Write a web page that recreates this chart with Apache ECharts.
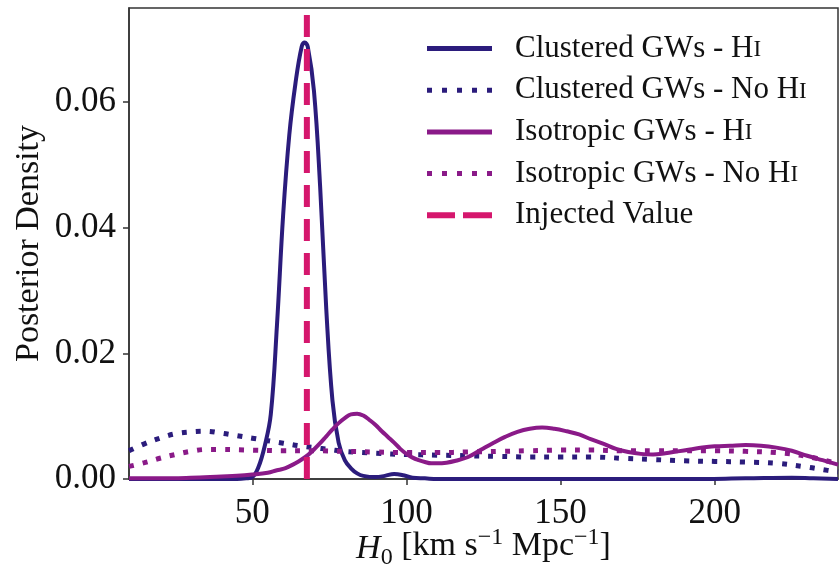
<!DOCTYPE html>
<html><head><meta charset="utf-8">
<script src="https://cdn.jsdelivr.net/npm/echarts@6/dist/echarts.min.js"></script>
<style>html,body{margin:0;padding:0;background:#fff}#c{width:840px;height:573px}</style>
</head><body><div id="c"></div>
<script>
// ---- tick labels ----
const xTicks = [50, 100, 150, 200];
const yTicks = [0, 0.02, 0.04, 0.06];
const xRange = [10, 240];
const yRange = [0, 0.075];
const injectedH0 = 67.7;

const names = [
  'Clustered GWs - HI',
  'Clustered GWs - No HI',
  'Isotropic GWs - HI',
  'Isotropic GWs - No HI',
  'Injected Value'
];

// ---- Clustered GWs - HI ----
const clusteredHiX = [10, 20, 30, 40, 45, 48, 50, 52, 54, 56, 58, 60, 62, 64, 66, 67, 68, 70, 72, 74, 76, 78, 80, 82, 84, 86, 90, 93, 96, 99, 102, 106, 110, 130, 160, 190, 210, 225, 232, 240];
const clusteredHiY = [0, 0, 0, 0, 0, 0.0001, 0.0003, 0.0019, 0.0052, 0.0103, 0.0245, 0.0420, 0.0548, 0.0630, 0.0688, 0.0695, 0.0688, 0.0618, 0.0466, 0.0270, 0.0125, 0.0058, 0.0030, 0.0017, 0.0009, 0.0005, 0.0003, 0.0005, 0.0008, 0.0006, 0.0002, 0.0001, 0, 0, 0, 0, 0.0001, 0.0002, 0.0001, 0];

// ---- Clustered GWs - No HI ----
const clusteredNoHiX = [10, 15, 20, 25, 30, 35, 40, 45, 50, 55, 60, 65, 70, 75, 80, 90, 100, 110, 120, 130, 140, 150, 160, 170, 180, 190, 200, 210, 220, 230, 235, 240];
const clusteredNoHiY = [0.0045, 0.0056, 0.0065, 0.0072, 0.0075, 0.0076, 0.0073, 0.0069, 0.0065, 0.0061, 0.0057, 0.0053, 0.0050, 0.0047, 0.0044, 0.0041, 0.0039, 0.0038, 0.0037, 0.0036, 0.0035, 0.0035, 0.0035, 0.0033, 0.0031, 0.0029, 0.0028, 0.0027, 0.0025, 0.0019, 0.0015, 0.0011];

// ---- Isotropic GWs - HI ----
const isotropicHiX = [10, 20, 30, 40, 45, 50, 55, 58, 60, 62, 64, 66, 68, 70, 72, 74, 76, 78, 80, 82, 84, 86, 88, 90, 92, 94, 96, 98, 100, 102, 104, 106, 108, 110, 113, 116, 120, 124, 128, 132, 136, 140, 144, 148, 152, 156, 160, 164, 168, 172, 176, 180, 184, 188, 192, 196, 200, 205, 210, 215, 220, 225, 230, 235, 240];
const isotropicHiY = [0.0001, 0.0001, 0.0002, 0.0004, 0.0005, 0.0007, 0.0010, 0.0014, 0.0016, 0.0020, 0.0025, 0.0031, 0.0038, 0.0047, 0.0057, 0.0068, 0.0079, 0.0089, 0.0097, 0.0103, 0.0104, 0.0101, 0.0094, 0.0086, 0.0076, 0.0067, 0.0058, 0.0048, 0.0040, 0.0034, 0.0030, 0.0027, 0.0025, 0.0025, 0.0026, 0.0029, 0.0035, 0.0046, 0.0057, 0.0067, 0.0075, 0.0080, 0.0082, 0.0080, 0.0076, 0.0071, 0.0063, 0.0056, 0.0048, 0.0043, 0.0040, 0.0039, 0.0041, 0.0044, 0.0047, 0.0050, 0.0052, 0.0053, 0.0054, 0.0053, 0.0050, 0.0045, 0.0037, 0.0030, 0.0023];

// ---- Isotropic GWs - No HI ----
const isotropicNoHiX = [10, 15, 20, 25, 30, 35, 40, 50, 60, 70, 80, 90, 100, 110, 120, 130, 140, 150, 160, 170, 180, 190, 200, 210, 220, 230, 240];
const isotropicNoHiY = [0.0020, 0.0026, 0.0033, 0.0039, 0.0044, 0.0047, 0.0047, 0.0046, 0.0045, 0.0045, 0.0044, 0.0043, 0.0042, 0.0042, 0.0043, 0.0044, 0.0045, 0.0046, 0.0046, 0.0045, 0.0045, 0.0045, 0.0045, 0.0044, 0.0042, 0.0036, 0.0024];

const FONT = '"Liberation Serif", "DejaVu Serif", serif';
const C_CLU = '#2b1c7c';
const C_ISO = '#8a1a88';
const C_INJ = '#d5176d';

function pairs(xs, ys) { return xs.map((x, i) => [x, ys[i]]); }

const dotted = [5, 9];
const chart = echarts.init(document.getElementById('c'), null, { renderer: 'canvas' });

const solidIcon = 'path://M0,0H65V5H0Z';
const dotIcon = 'path://M0,0H5V5H0Z M15,0H20V5H15Z M30,0H35V5H30Z M45,0H50V5H45Z M60,0H65V5H60Z';
const dashIcon = 'path://M0,0H28V6H0Z M36,0H65V6H36Z';

chart.setOption({
  animation: false,
  backgroundColor: '#fff',
  grid: { left: 129, right: 2, top: 8, bottom: 94, outerBoundsMode: 'none', containLabel: false,
          show: true, borderColor: '#333', borderWidth: 1.5, backgroundColor: 'transparent' },
  legend: {
    orient: 'vertical',
    left: 427, top: 33, padding: 0,
    itemWidth: 65, itemHeight: 30, itemGap: 10.7,
    formatter: n => n.replace(/HI$/, 'H{sc|I}'),
    textStyle: {
      fontFamily: FONT, fontSize: 31, color: '#111', lineHeight: 30, padding: [0, 0, 0, 18],
      rich: { sc: { fontFamily: FONT, fontSize: 23, color: '#111', lineHeight: 30, verticalAlign: 'bottom', padding: [0, 0, 2, 0] } }
    },
    data: [
      { name: names[0], icon: solidIcon },
      { name: names[1], icon: dotIcon },
      { name: names[2], icon: solidIcon },
      { name: names[3], icon: dotIcon },
      { name: names[4], icon: dashIcon }
    ]
  },
  xAxis: {
    type: 'value', min: xRange[0], max: xRange[1],
    axisLine: { show: true, lineStyle: { color: '#333', width: 1.5 } },
    axisTick: { show: true, inside: false, length: 6, customValues: xTicks, lineStyle: { color: '#333', width: 1.5 } },
    axisLabel: { customValues: xTicks, margin: 17, fontFamily: FONT, fontSize: 35, color: '#111' },
    splitLine: { show: false },
    name: '{i|H}{sub|0} [km s{sup|−1} Mpc{sup|−1}]',
    nameLocation: 'middle', nameGap: 47, nameMoveOverlap: false,
    nameTextStyle: {
      fontFamily: FONT, fontSize: 34, color: '#111', lineHeight: 40,
      rich: {
        i: { fontFamily: FONT, fontSize: 34, fontStyle: 'italic', color: '#111', lineHeight: 40, verticalAlign: 'bottom' },
        sub: { fontFamily: FONT, fontSize: 24, color: '#111', lineHeight: 40, verticalAlign: 'bottom', padding: [0, 0, -4, 0] },
        sup: { fontFamily: FONT, fontSize: 24, color: '#111', lineHeight: 40, verticalAlign: 'top', padding: [0, 0, 0, 0] }
      }
    }
  },
  yAxis: {
    type: 'value', min: yRange[0], max: yRange[1],
    axisLine: { show: true, lineStyle: { color: '#333', width: 1.5 } },
    axisTick: { show: true, inside: false, length: 6, customValues: yTicks, lineStyle: { color: '#333', width: 1.5 } },
    axisLabel: { customValues: yTicks, margin: 13, fontFamily: FONT, fontSize: 35, color: '#111', formatter: v => v.toFixed(2) },
    splitLine: { show: false },
    name: 'Posterior Density', nameLocation: 'middle', nameGap: 83, nameRotate: 90, nameMoveOverlap: false,
    nameTextStyle: { fontFamily: FONT, fontSize: 34, color: '#111' }
  },
  series: [
    { name: names[0], type: 'line', data: pairs(clusteredHiX, clusteredHiY), smooth: 0.4, symbol: 'none', color: C_CLU,
      lineStyle: { color: C_CLU, width: 4 }, z: 3 },
    { name: names[1], type: 'line', data: pairs(clusteredNoHiX, clusteredNoHiY), smooth: 0.4, symbol: 'none', color: C_CLU,
      lineStyle: { color: C_CLU, width: 5, type: dotted, cap: 'butt' }, z: 3 },
    { name: names[2], type: 'line', data: pairs(isotropicHiX, isotropicHiY), smooth: 0.4, symbol: 'none', color: C_ISO,
      lineStyle: { color: C_ISO, width: 4 }, z: 3 },
    { name: names[3], type: 'line', data: pairs(isotropicNoHiX, isotropicNoHiY), smooth: 0.4, symbol: 'none', color: C_ISO,
      lineStyle: { color: C_ISO, width: 5, type: dotted, cap: 'butt' }, z: 3 },
    { name: names[4], type: 'line', data: [[injectedH0, yRange[0]], [injectedH0, yRange[1]]], symbol: 'none', color: C_INJ,
      lineStyle: { color: C_INJ, width: 6, type: [22, 12], cap: 'butt' }, z: 4 }
  ]
});
</script>
</body></html>
